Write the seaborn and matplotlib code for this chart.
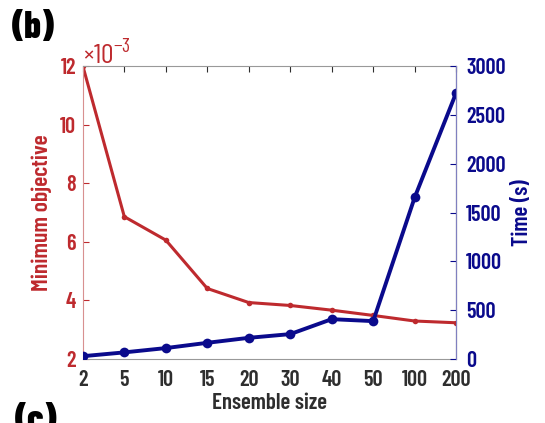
import numpy as np
import pandas as pd
import seaborn as sns
import matplotlib.pyplot as plt

sizes = ['2', '5', '10', '15', '20', '30', '40', '50', '100', '200']
min_obj = [12.0, 6.86, 6.06, 4.41, 3.93, 3.83, 3.67, 3.49, 3.30, 3.24]  # x 1e-3
time_s = [30, 69, 113, 167, 218, 256, 409, 389, 1655, 2726]

red = '#BE2A2E'
blue = '#0A0A8C'
dark = '#2E2E2E'
fw = 600

sns.set_style('white')
plt.rcParams['font.family'] = ['Barlow Condensed', 'DejaVu Sans']
plt.rcParams['mathtext.fontset'] = 'custom'
plt.rcParams['mathtext.rm'] = 'Barlow Condensed'

df = pd.DataFrame({'pos': np.arange(len(sizes)), 'obj': min_obj, 'time': time_s})

fig = plt.figure(figsize=(5.45, 4.23), dpi=100)
ax = fig.add_axes([0.152, 0.151, 0.685, 0.693])
sns.lineplot(data=df, x='pos', y='obj', ax=ax, color=red, lw=2.2,
             marker='o', markersize=4, markeredgewidth=0)
ax.set_ylim(2, 12)
ax.set_xlim(0, len(sizes) - 1)
ax.set_yticks([2, 4, 6, 8, 10, 12])
ax.set_xticks(df['pos'])
ax.set_xticklabels(sizes)
ax.tick_params(axis='y', colors=red, labelsize=16, direction='in', length=4, pad=5)
ax.tick_params(axis='x', colors=dark, labelsize=16, direction='in', length=4, top=True, pad=8)
for lab in ax.get_xticklabels() + ax.get_yticklabels():
    lab.set_fontweight(fw)
ax.set_xlabel('Ensemble size', fontsize=16.5, fontweight=fw, color=dark, labelpad=2)
ax.set_ylabel('Minimum objective', fontsize=17, fontweight=fw, color=red, labelpad=6)
ax.spines['left'].set_color('#D89090')
ax.spines['top'].set_color('#999999')
ax.spines['bottom'].set_color('#999999')
ax.text(0.0, 1.01, r'×10$^{-3}$', transform=ax.transAxes, color=red, fontsize=20)

ax2 = ax.twinx()
sns.lineplot(data=df, x='pos', y='time', ax=ax2, color=blue, lw=2.8,
             marker='o', markersize=7, markeredgewidth=0)
ax2.set_ylim(0, 3000)
ax2.set_yticks(np.arange(0, 3001, 500))
ax2.tick_params(axis='y', colors=blue, labelsize=16, direction='in', length=4, pad=7)
for lab in ax2.get_yticklabels():
    lab.set_fontweight(fw)
ax2.set_ylabel('Time (s)', fontsize=16.5, fontweight=fw, color=blue, labelpad=5)
ax2.spines['right'].set_color('#8080C0')
ax2.spines['left'].set_visible(False)
ax2.spines['top'].set_visible(False)
ax2.spines['bottom'].set_visible(False)

fig.text(0.022, 0.91, '(b)', fontsize=27, fontweight=800, color='black')
fig.text(0.027, -0.02, '(c)', fontsize=27, fontweight=800, color='black')

fig.savefig('out.png', dpi=100)
